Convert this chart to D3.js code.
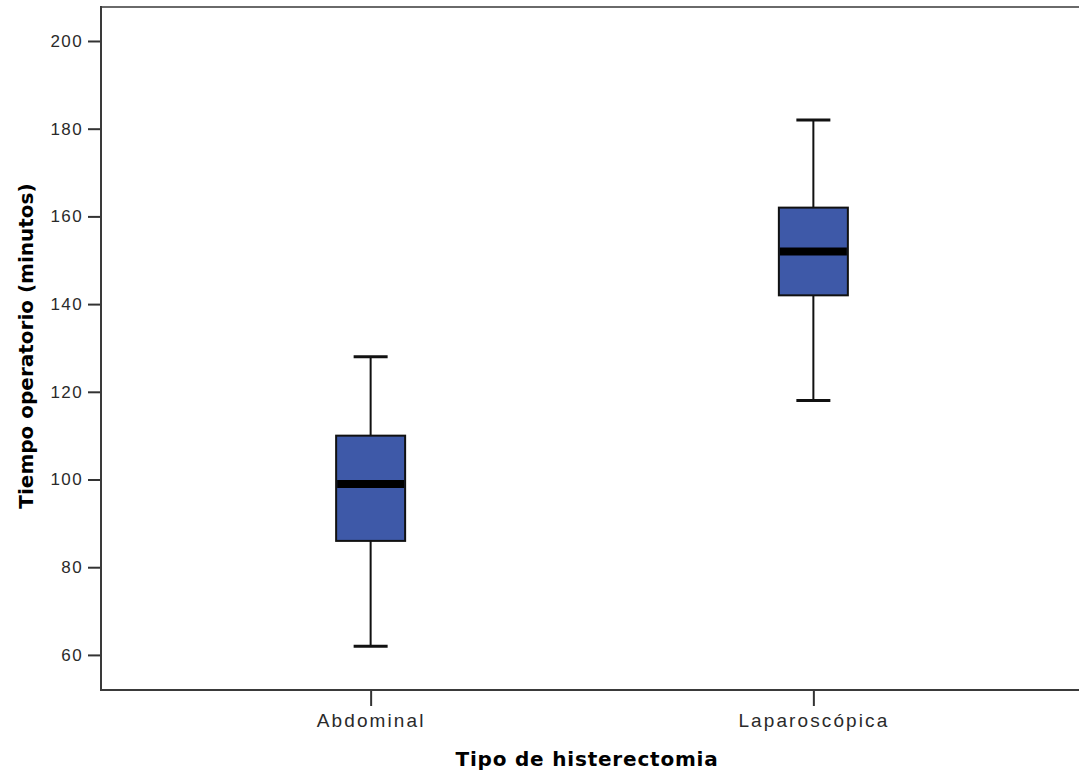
<!DOCTYPE html>
<html>
<head>
<meta charset="utf-8">
<script src="https://cdn.jsdelivr.net/npm/d3@7"></script>
<style>
  body { margin: 0; background: #fff; }
  svg { display: block; }
</style>
</head>
<body>
<div id="chart"></div>
<script>
// box plot values
const categories = ['Abdominal', 'Laparoscópica'];
const whiskerLow = [62, 118];
const q1 = [86, 142];
const median = [99, 152];
const q3 = [110, 162];
const whiskerHigh = [128, 182];
const yTicks = [60, 80, 100, 120, 140, 160, 180, 200];

const width = 1079;
const height = 776;
const plot = {left: 102, top: 7, right: 1080, bottom: 690};

const svg = d3.select('#chart')
    .append('svg')
    .attr('width', width)
    .attr('height', height);

const xScale = d3.scalePoint()
    .domain(categories)
    .range([105, 1079])
    .padding(0.6);

const yScale = d3.scaleLinear()
    .domain([52, 207.75])
    .range([plot.bottom, plot.top]);

const boxes = categories.map((c, i) => ({
  cat: c,
  lo: whiskerLow[i],
  q1: q1[i],
  med: median[i],
  q3: q3[i],
  hi: whiskerHigh[i],
}));

// frame
svg.append('line')
    .attr('x1', plot.left).attr('x2', plot.right)
    .attr('y1', plot.top).attr('y2', plot.top)
    .attr('stroke', '#6a6a6a').attr('stroke-width', 2);

// y axis
const yAxis = svg.append('g')
    .attr('transform', `translate(${plot.left}, 0)`)
    .call(d3.axisLeft(yScale).tickValues(yTicks).tickSize(14).tickPadding(5));
yAxis.select('.domain').remove();
yAxis.selectAll('.tick line').attr('stroke', '#333').attr('stroke-width', 2);
yAxis.selectAll('.tick text')
    .attr('fill', '#2a2a2a')
    .style('font-family', '"Liberation Sans", Arial, sans-serif')
    .style('font-size', '17px')
    .style('letter-spacing', '1.4px');

// x axis
const xAxis = svg.append('g')
    .attr('transform', `translate(0, ${plot.bottom})`)
    .call(d3.axisBottom(xScale).tickSize(16).tickPadding(8));
xAxis.select('.domain').remove();
xAxis.selectAll('.tick line').attr('stroke', '#333').attr('stroke-width', 2);
xAxis.selectAll('.tick text')
    .attr('fill', '#2a2a2a')
    .style('font-family', '"Liberation Sans", Arial, sans-serif')
    .style('font-size', '19px')
    .style('letter-spacing', '2.1px');

svg.append('line')
    .attr('x1', plot.left - 1).attr('x2', plot.left - 1)
    .attr('y1', plot.top - 1).attr('y2', plot.bottom + 1)
    .attr('stroke', '#3a3a3a').attr('stroke-width', 2);
svg.append('line')
    .attr('x1', plot.left - 2).attr('x2', plot.right)
    .attr('y1', plot.bottom).attr('y2', plot.bottom)
    .attr('stroke', '#3a3a3a').attr('stroke-width', 2);

// boxes
const boxW = 69;
const capW = 34;
const g = svg.selectAll('.box')
    .data(boxes)
    .enter()
    .append('g')
    .attr('class', 'box');

g.append('line')
    .attr('x1', (d) => xScale(d.cat)).attr('x2', (d) => xScale(d.cat))
    .attr('y1', (d) => yScale(d.lo)).attr('y2', (d) => yScale(d.hi))
    .attr('stroke', '#111').attr('stroke-width', 2);
g.append('line')
    .attr('x1', (d) => xScale(d.cat) - capW / 2)
    .attr('x2', (d) => xScale(d.cat) + capW / 2)
    .attr('y1', (d) => yScale(d.hi)).attr('y2', (d) => yScale(d.hi))
    .attr('stroke', '#111').attr('stroke-width', 3);
g.append('line')
    .attr('x1', (d) => xScale(d.cat) - capW / 2)
    .attr('x2', (d) => xScale(d.cat) + capW / 2)
    .attr('y1', (d) => yScale(d.lo)).attr('y2', (d) => yScale(d.lo))
    .attr('stroke', '#111').attr('stroke-width', 3);
g.append('rect')
    .attr('x', (d) => xScale(d.cat) - boxW / 2)
    .attr('width', boxW)
    .attr('y', (d) => yScale(d.q3))
    .attr('height', (d) => yScale(d.q1) - yScale(d.q3))
    .attr('fill', '#3e59a8')
    .attr('stroke', '#111')
    .attr('stroke-width', 2);
g.append('line')
    .attr('x1', (d) => xScale(d.cat) - boxW / 2 + 1)
    .attr('x2', (d) => xScale(d.cat) + boxW / 2 - 1)
    .attr('y1', (d) => yScale(d.med)).attr('y2', (d) => yScale(d.med))
    .attr('stroke', '#000').attr('stroke-width', 8);

// axis titles
svg.append('text')
    .attr('x', 587)
    .attr('y', 766)
    .attr('text-anchor', 'middle')
    .attr('fill', '#000')
    .style('font-family', '"DejaVu Sans", Verdana, sans-serif')
    .style('font-weight', 'bold')
    .style('font-size', '20px')
    .style('letter-spacing', '0.8px')
    .text('Tipo de histerectomia');

svg.append('text')
    .attr('transform', 'translate(33, 346) rotate(-90)')
    .attr('text-anchor', 'middle')
    .attr('fill', '#000')
    .style('font-family', '"DejaVu Sans", Verdana, sans-serif')
    .style('font-weight', 'bold')
    .style('font-size', '20px')
    .text('Tiempo operatorio (minutos)');
</script>
</body>
</html>
